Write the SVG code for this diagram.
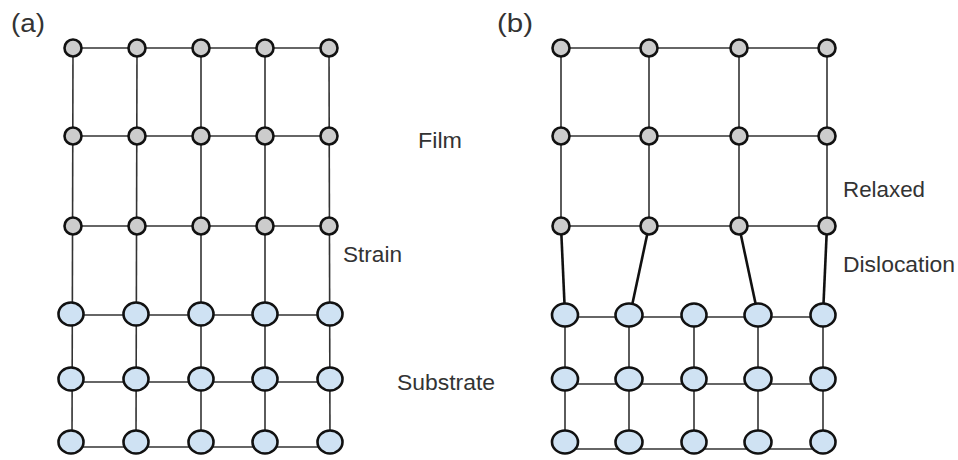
<svg xmlns="http://www.w3.org/2000/svg" width="958" height="460" viewBox="0 0 958 460">
<style>
.ln{stroke:#333;stroke-width:1.6;fill:none}
.dl{stroke:#111;stroke-width:2.6;fill:none}
.f{fill:#cccccc;stroke:#111;stroke-width:2.6}
.s{fill:#cfe2f3;stroke:#111;stroke-width:2.6}
.t{font-family:"Liberation Sans",Arial,sans-serif;font-size:22px;fill:#333}
.p{font-family:"Liberation Sans",Arial,sans-serif;font-size:26px;fill:#333}
</style>
<rect width="958" height="460" fill="#fff"/>
<g id="connectors">
<line class="ln" x1="73" y1="48" x2="329" y2="48"/>
<line class="ln" x1="73" y1="136" x2="329" y2="136"/>
<line class="ln" x1="73" y1="226" x2="329" y2="226"/>
<line class="ln" x1="71" y1="315" x2="331" y2="315"/>
<line class="ln" x1="71" y1="382" x2="331" y2="382"/>
<line class="ln" x1="71" y1="447" x2="331" y2="447"/>
<line class="ln" x1="73" y1="48" x2="72" y2="442"/>
<line class="ln" x1="137" y1="48" x2="136" y2="442"/>
<line class="ln" x1="201" y1="48" x2="201" y2="442"/>
<line class="ln" x1="265" y1="48" x2="265" y2="442"/>
<line class="ln" x1="329" y1="48" x2="330" y2="442"/>
<line class="ln" x1="561" y1="48" x2="827" y2="48"/>
<line class="ln" x1="561" y1="136" x2="827" y2="136"/>
<line class="ln" x1="561" y1="226" x2="827" y2="226"/>
<line class="ln" x1="561" y1="48" x2="561" y2="226"/>
<line class="ln" x1="649" y1="48" x2="649" y2="226"/>
<line class="ln" x1="739" y1="48" x2="739" y2="226"/>
<line class="ln" x1="827" y1="48" x2="827" y2="226"/>
<line class="dl" x1="561" y1="226" x2="565" y2="315"/>
<line class="dl" x1="649" y1="226" x2="630" y2="315"/>
<line class="dl" x1="739" y1="226" x2="758" y2="315"/>
<line class="dl" x1="827" y1="226" x2="823" y2="315"/>
<line class="ln" x1="564" y1="317" x2="823" y2="317"/>
<line class="ln" x1="564" y1="384" x2="823" y2="384"/>
<line class="ln" x1="564" y1="449" x2="823" y2="449"/>
<line class="ln" x1="565" y1="315" x2="565" y2="443"/>
<line class="ln" x1="629" y1="315" x2="629" y2="443"/>
<line class="ln" x1="694" y1="315" x2="694" y2="443"/>
<line class="ln" x1="758" y1="315" x2="758" y2="443"/>
<line class="ln" x1="823" y1="315" x2="823" y2="443"/>
</g>
<g id="film-a">
<circle class="f" cx="73" cy="48" r="8.5"/><circle class="f" cx="137" cy="48" r="8.5"/><circle class="f" cx="201" cy="48" r="8.5"/><circle class="f" cx="265" cy="48" r="8.5"/><circle class="f" cx="329" cy="48" r="8.5"/>
<circle class="f" cx="73" cy="136" r="8.5"/><circle class="f" cx="137" cy="136" r="8.5"/><circle class="f" cx="201" cy="136" r="8.5"/><circle class="f" cx="265" cy="136" r="8.5"/><circle class="f" cx="329" cy="136" r="8.5"/>
<circle class="f" cx="73" cy="226" r="8.5"/><circle class="f" cx="137" cy="226" r="8.5"/><circle class="f" cx="201" cy="226" r="8.5"/><circle class="f" cx="265" cy="226" r="8.5"/><circle class="f" cx="329" cy="226" r="8.5"/>
</g>
<g id="substrate-a">
<ellipse class="s" cx="71" cy="314" rx="12.5" ry="11.5"/><ellipse class="s" cx="136" cy="314" rx="12.5" ry="11.5"/><ellipse class="s" cx="201" cy="314" rx="12.5" ry="11.5"/><ellipse class="s" cx="265" cy="314" rx="12.5" ry="11.5"/><ellipse class="s" cx="330" cy="314" rx="12.5" ry="11.5"/>
<ellipse class="s" cx="71" cy="379" rx="12.5" ry="11.5"/><ellipse class="s" cx="136" cy="379" rx="12.5" ry="11.5"/><ellipse class="s" cx="201" cy="379" rx="12.5" ry="11.5"/><ellipse class="s" cx="265" cy="379" rx="12.5" ry="11.5"/><ellipse class="s" cx="330" cy="379" rx="12.5" ry="11.5"/>
<ellipse class="s" cx="71" cy="442" rx="12.5" ry="11.5"/><ellipse class="s" cx="136" cy="442" rx="12.5" ry="11.5"/><ellipse class="s" cx="201" cy="442" rx="12.5" ry="11.5"/><ellipse class="s" cx="265" cy="442" rx="12.5" ry="11.5"/><ellipse class="s" cx="330" cy="442" rx="12.5" ry="11.5"/>
</g>
<g id="film-b">
<circle class="f" cx="561" cy="48" r="8.5"/><circle class="f" cx="649" cy="48" r="8.5"/><circle class="f" cx="739" cy="48" r="8.5"/><circle class="f" cx="827" cy="48" r="8.5"/>
<circle class="f" cx="561" cy="136" r="8.5"/><circle class="f" cx="649" cy="136" r="8.5"/><circle class="f" cx="739" cy="136" r="8.5"/><circle class="f" cx="827" cy="136" r="8.5"/>
<circle class="f" cx="561" cy="226" r="8.5"/><circle class="f" cx="649" cy="226" r="8.5"/><circle class="f" cx="739" cy="226" r="8.5"/><circle class="f" cx="827" cy="226" r="8.5"/>
</g>
<g id="substrate-b">
<ellipse class="s" cx="565" cy="315" rx="13" ry="11.5"/><ellipse class="s" cx="629" cy="315" rx="13.5" ry="11.5"/><ellipse class="s" cx="694" cy="315" rx="12.5" ry="11.5"/><ellipse class="s" cx="758" cy="315" rx="13.5" ry="11.5"/><ellipse class="s" cx="823" cy="315" rx="12.5" ry="11.5"/>
<ellipse class="s" cx="565" cy="379" rx="13" ry="11.5"/><ellipse class="s" cx="629" cy="379" rx="13.5" ry="11.5"/><ellipse class="s" cx="694" cy="379" rx="12.5" ry="11.5"/><ellipse class="s" cx="758" cy="379" rx="13.5" ry="11.5"/><ellipse class="s" cx="823" cy="379" rx="12.5" ry="11.5"/>
<ellipse class="s" cx="565" cy="442" rx="13" ry="11.5"/><ellipse class="s" cx="629" cy="442" rx="13.5" ry="11.5"/><ellipse class="s" cx="694" cy="442" rx="12.5" ry="11.5"/><ellipse class="s" cx="758" cy="442" rx="13.5" ry="11.5"/><ellipse class="s" cx="823" cy="442" rx="12.5" ry="11.5"/>
</g>
<g id="labels">
<text class="p" x="11" y="32" textLength="34" lengthAdjust="spacingAndGlyphs">(a)</text>
<text class="p" x="497" y="32" textLength="36" lengthAdjust="spacingAndGlyphs">(b)</text>
<text class="t" x="418" y="148" textLength="44" lengthAdjust="spacingAndGlyphs">Film</text>
<text class="t" x="343" y="262" textLength="59" lengthAdjust="spacingAndGlyphs">Strain</text>
<text class="t" x="397" y="390" textLength="98" lengthAdjust="spacingAndGlyphs">Substrate</text>
<text class="t" x="843" y="197" textLength="82" lengthAdjust="spacingAndGlyphs">Relaxed</text>
<text class="t" x="843" y="272" textLength="112" lengthAdjust="spacingAndGlyphs">Dislocation</text>
</g>
</svg>
